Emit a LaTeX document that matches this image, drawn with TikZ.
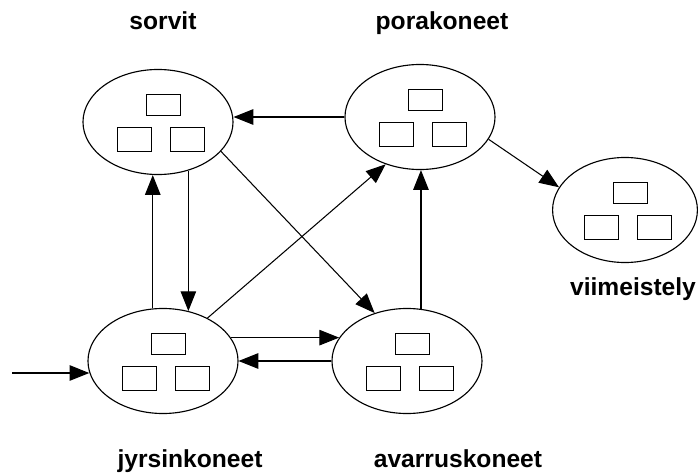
\documentclass[tikz,border=0pt]{standalone}
\usepackage{fontspec}
\setmainfont{Liberation Sans}
\usepackage{tikz}
\usetikzlibrary{arrows.meta,shapes.geometric}

\begin{document}
\begin{tikzpicture}[
        x=0.025cm, y=-0.025cm,
        machine/.style={ellipse,draw,line width=0.8pt,inner sep=0pt,minimum width=3.75cm,minimum height=2.625cm},
        title/.style={anchor=base,font=\fontsize{17.5}{20}\selectfont\bfseries},
        unit/.style={draw,line width=0.7pt},
        every path/.append style={line width=0.75pt},
        flow/.style={-{Triangle[length=14pt,width=11pt]}}
    ]
        \useasboundingbox (0,0) rectangle (698,474);

        \node [machine] (sorv) at (158,122) {};
        \node [machine] (pora) at (420,117) {};
        \node [machine,minimum width=3.62cm] (viim) at (625,210) {};
        \node [machine] (jyrs) at (163,361) {};
        \node [machine] (avar) at (407,361) {};

        \node [title] (tsorv) at (163,29)  {sorvit};
        \node [title] (tpora) at (442,29)  {porakoneet};
        \node [title] (tviim) at (633,295) {viimeistely};
        \node [title] (tjyrs) at (190,467) {jyrsinkoneet};
        \node [title] (tavar) at (458,467) {avarruskoneet};

        % three machines in each group
        \foreach \n in {sorv,pora,viim,jyrs,avar} {
            \draw [unit] ([shift={(-12,-28)}]\n.center) rectangle ++(34,21);
            \draw [unit] ([shift={(-41,5)}]\n.center)   rectangle ++(34,24);
            \draw [unit] ([shift={(12,5)}]\n.center)    rectangle ++(34,24);
        }

        \coordinate (in) at (12,373);

        \draw [flow] (pora.west) -- (pora.west -| sorv.east);
        \draw [flow] (sorv.-58) -- (sorv.-58 |- jyrs.63);
        \draw [flow] (jyrs.101) -- (jyrs.101 |- sorv.south);
        \draw [flow] (sorv.-25) -- (avar.124);
        \draw [flow] (jyrs.44) -- (pora.-126);
        \draw [flow] (avar.75) -- (avar.75 |- pora.south);
        \draw [flow] (pora.-18) -- (viim.161);
        \draw [flow] (jyrs.19) -- (jyrs.19 -| avar.161);
        \draw [flow] (avar.west) -- (jyrs.east);
        \draw [flow] (in) -- (in -| jyrs.189);
    \end{tikzpicture}
\end{document}
